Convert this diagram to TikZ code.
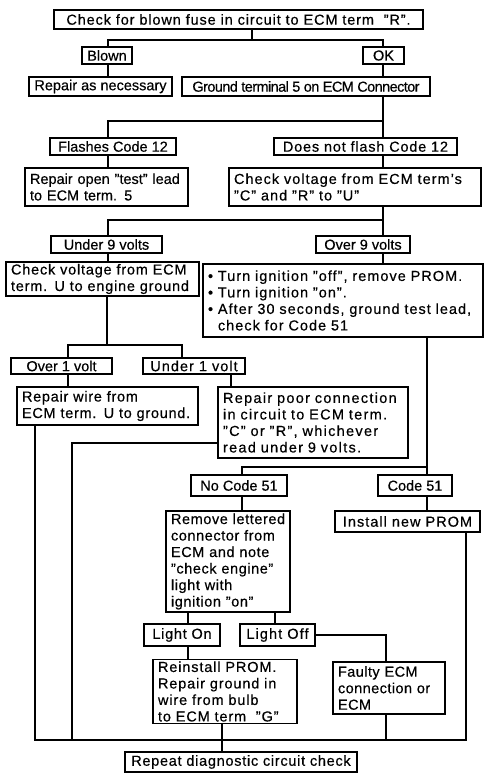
\documentclass[tikz,border=0pt]{standalone}
\usepackage{fontspec}
\setmainfont{Liberation Sans}[FakeBold=0.4]
\begin{document}
\begin{tikzpicture}[x=1pt,y=-1pt,line width=1.2pt,
  fbox/.style={draw,line width=1.2pt,inner xsep=5pt,inner ysep=2pt,
    font=\fontsize{14.5}{16.5}\selectfont},
  multi/.style={align=left,execute at begin node={\hyphenpenalty=10000}},
  track/.style={font=\fontsize{14.5}{16.5}\selectfont\addfontfeature{LetterSpace=#1}}]
% canvas
\fill[white] (0,0) rectangle (486,775);
\useasboundingbox (0,0) rectangle (486,775);
% single-line box: [style] x1, y1, x2, y2 (text centred)
\newcommand{\sbx}[5][]{\node[fbox,#1,minimum width={(#4-#2)*1pt},minimum height={(#5-#3)*1pt}]
  at ({(#2+#4)/2},{(#3+#5)/2})}
% multi-line box: [style] x1, y1, x2, y2 (text left aligned)
\newcommand{\mbx}[5][]{\node[fbox,multi,#1,minimum width={(#4-#2)*1pt},minimum height={(#5-#3)*1pt},
  text width=\dimexpr #4pt-#2pt-10pt\relax] at ({(#2+#4)/2},{(#3+#5)/2})}

\sbx[track=6]{54}{10}{423}{29} (top) {Check for blown fuse in circuit to ECM term~~"R".};
\sbx{82}{47}{132}{64} (blown) {Blown};
\sbx{363}{47}{404}{64} (ok) {OK};
\sbx{29}{77}{172}{96} (rep) {Repair as necessary};
\sbx[track=-4]{182}{77}{430}{96} (gnd) {Ground terminal 5 on ECM Connector};
\sbx{50}{138}{176}{155} (flash) {Flashes Code 12};
\sbx[track=5.5]{274}{138}{457}{155} (noflash) {Does not flash Code 12};
\mbx{25}{168}{188}{206} (repopen) {Repair open "test" lead\\to ECM term. 5};
\mbx[track=7]{229}{168}{481}{206} (cvr) {Check voltage from ECM term's\\"C" and "R" to "U"};
\sbx{51}{236}{162}{253} (under9) {Under 9 volts};
\sbx{316}{236}{410}{253} (over9) {Over 9 volts};
\mbx[track=5.5]{6}{264}{199}{294} (cvu) {Check voltage from ECM\\term. U to engine ground};
\mbx[track=7]{203}{264}{483}{337} (bul) {\textbullet\ Turn ignition "off", remove PROM.\\
  \textbullet\ Turn ignition "on".\\
  \textbullet\ After 30 seconds, ground test lead,\\
  \phantom{\textbullet\ }check for Code 51};
\sbx{11}{358}{112}{374} (over1) {Over 1 volt};
\sbx[track=7]{143}{358}{245}{374} (under1) {Under 1 volt};
\mbx[track=5]{17}{387}{198}{425} (repwire) {Repair wire from\\ECM term. U to ground.};
\mbx[track=9]{218}{387}{408}{458} (reppoor) {Repair poor connection\\in circuit to ECM term.\\"C" or "R", whichever\\read under 9 volts.};
\sbx{191}{475}{287}{496} (nocode) {No Code 51};
\sbx{378}{475}{452}{496} (code51) {Code 51};
\sbx[track=7]{335}{511}{480}{532} (install) {Install new PROM};
\mbx[track=4]{166}{511}{290}{612} (remove) {Remove~lettered\\connector~from\\ECM~and~note\\"check~engine"\\light~with\\ignition~"on"};
\sbx[track=5]{144}{624}{220}{646} (lighton) {Light On};
\sbx[track=7.5]{240}{624}{315}{646} (lightoff) {Light Off};
\mbx[track=6]{153}{662}{297}{721} (reinst) {Reinstall PROM.\\Repair ground in\\wire from bulb\\to ECM term~~"G"};
\mbx[track=3]{333}{662}{445}{714} (faulty) {Faulty ECM\\connection or\\ECM};
\sbx[track=5]{125}{752}{357}{772} (again) {Repeat diagnostic circuit check};

% first split
\coordinate (b1) at (252,40); \coordinate (b1l) at (108,40); \coordinate (b1r) at (383,40);
\draw (b1 |- top.south) -- (b1);
\draw (b1l |- blown.north) -- (b1l) -- (b1r) -- (b1r |- ok.north);
\draw (blown.south -| b1l) -- (b1l |- rep.north);
\draw (ok.south -| b1r) -- (b1r |- gnd.north);
% second split
\coordinate (b2l) at (108,121); \coordinate (b2r) at (383,121);
\draw (gnd.south -| b2r) -- (b2r) -- (b2l) -- (b2l |- flash.north);
\draw (b2r) -- (b2r |- noflash.north);
\draw (flash.south -| b2l) -- (b2l |- repopen.north);
\draw (noflash.south -| b2r) -- (b2r |- cvr.north);
% third split
\coordinate (b3l) at (108,220); \coordinate (b3r) at (383,220);
\draw (cvr.south -| b3r) -- (b3r) -- (b3l) -- (b3l |- under9.north);
\draw (b3r) -- (b3r |- over9.north);
\draw (under9.south -| b3l) -- (b3l |- cvu.north);
\draw (over9.south -| b3r) -- (b3r |- bul.north);
% voltage at terminal U
\coordinate (b4) at (107,345); \coordinate (b4l) at (68,345); \coordinate (b4r) at (182,345);
\draw (cvu.south -| b4) -- (b4);
\draw (b4l |- over1.north) -- (b4l) -- (b4r) -- (b4r |- under1.north);
\draw (over1.south -| b4l) -- (b4l |- repwire.north);
\coordinate (s1) at (231,0);
\draw (under1.south -| s1) -- (s1 |- reppoor.north);
% PROM test
\coordinate (b5l) at (242,467); \coordinate (b5r) at (427,467);
\draw (bul.south -| b5r) -- (b5r) -- (b5l) -- (b5l |- nocode.north);
\draw (b5r) -- (b5r |- code51.north);
\draw (nocode.south -| b5l) -- (b5l |- remove.north);
\draw (code51.south -| b5r) -- (b5r |- install.north);
\coordinate (s2) at (188,0); \coordinate (s3) at (275,0); \coordinate (s4) at (386,0);
\draw (remove.south -| s2) -- (s2 |- lighton.north);
\draw (remove.south -| s3) -- (s3 |- lightoff.north);
\draw (lighton.south -| s2) -- (s2 |- reinst.north);
\draw (lightoff.east) -| (s4 |- faulty.north);
% return bus
\coordinate (bbl) at (35,740); \coordinate (bbr) at (466,740);
\coordinate (bbm) at (222,740); \coordinate (bbp) at (72,740);
\coordinate (t1) at (72,443);
\draw (repwire.south -| bbl) -- (bbl) -- (bbr) -- (bbr |- install.south);
\draw (t1 -| reppoor.west) -- (t1) -- (bbp);
\draw (faulty.south -| s4) -- (s4 |- bbl);
\draw (reinst.south -| bbm) -- (bbm |- again.north);
\end{tikzpicture}
\end{document}
